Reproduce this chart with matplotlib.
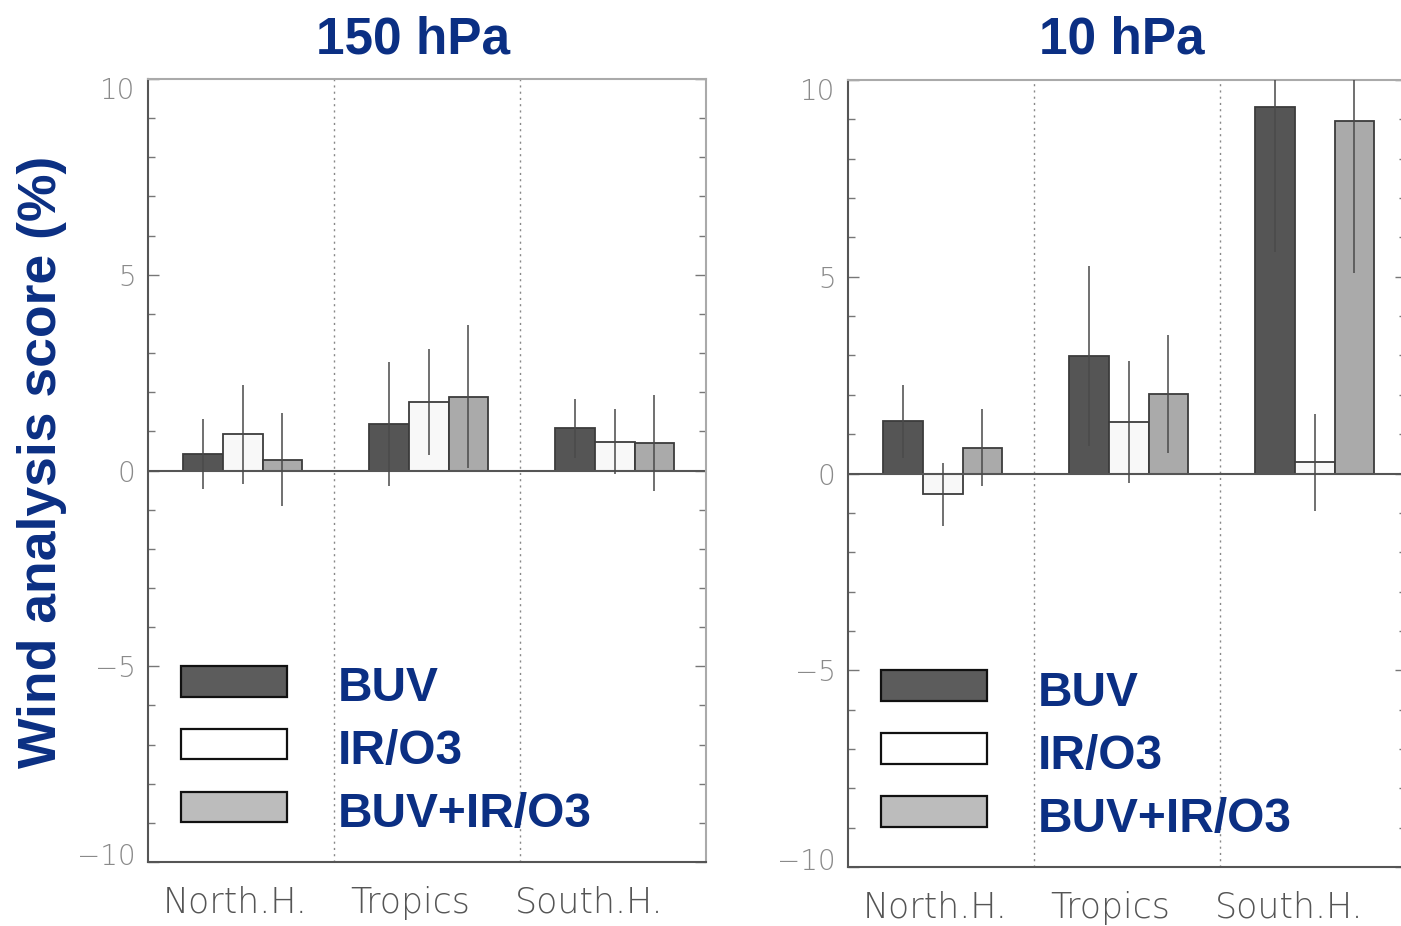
import matplotlib
matplotlib.use('Agg')
import matplotlib.pyplot as plt
import matplotlib.transforms as mtransforms
from matplotlib.patches import Rectangle
import numpy as np

# regions and experiments
regions = ['North.H.', 'Tropics', 'South.H.']
series = ['BUV', 'IR/O3', 'BUV+IR/O3']

# 150 hPa scores and error bar half lengths (%)
buv_150 = [0.42, 1.19, 1.08]
ir_150 = [0.92, 1.75, 0.74]
both_150 = [0.28, 1.89, 0.70]
buv_150_err = [0.89, 1.58, 0.75]
ir_150_err = [1.27, 1.36, 0.84]
both_150_err = [1.19, 1.83, 1.23]

# 10 hPa scores and error bar half lengths (%)
buv_10 = [1.33, 2.98, 9.31]
ir_10 = [-0.53, 1.31, 0.28]
both_10 = [0.65, 2.03, 8.97]
buv_10_err = [0.93, 2.29, 3.67]
ir_10_err = [0.80, 1.55, 1.24]
both_10_err = [0.98, 1.50, 3.87]

titles = ['150 hPa', '10 hPa']
ylabel = 'Wind analysis score (%)'

BLUE = '#0b2f83'
bar_colors = ['#555555', '#f8f8f8', '#aaaaaa']
legend_colors = ['#5c5c5c', '#ffffff', '#bcbcbc']
label_x = [0.47, 1.41, 2.37]

fig = plt.figure(figsize=(14.01, 9.26), dpi=100)
ax1 = fig.add_axes([148 / 1401, 64 / 926, 558 / 1401, 783 / 926])
ax2 = fig.add_axes([848 / 1401, 59 / 926, 558 / 1401, 787 / 926])


def draw_panel(ax, vals, errs, title, title_x):
    centers = np.arange(len(regions)) + 0.51
    w = 0.213
    for k in range(3):
        x = centers + (k - 1) * w
        ax.bar(x, vals[k], width=w, color=bar_colors[k], edgecolor='#3c3c3c',
               linewidth=1.3, zorder=2)
        ax.errorbar(x, vals[k], yerr=errs[k], fmt='none', ecolor='#4a4a4a',
                    elinewidth=1.3, capsize=0, alpha=0.85, zorder=3)

    ax.axhline(0, color='#555555', lw=1.5, zorder=2.5)
    for xs in [1, 2]:
        ax.axvline(xs, color='#888888', lw=1.0, ls=(0, (1.5, 3)), zorder=1)

    ax.set_xlim(0, 3)
    ax.set_ylim(-10, 10)
    ax.set_xticks([])
    ax.set_yticks([-10, -5, 0, 5, 10])
    ax.set_yticks(np.arange(-10, 11, 1), minor=True)
    ax.tick_params(axis='y', which='both', direction='in', left=True, right=True,
                   colors='#777777', labelcolor='#8a8a8a', labelsize=20, pad=9)
    ax.tick_params(axis='y', which='major', length=8, width=1.0)
    ax.tick_params(axis='y', which='minor', length=5, width=1.0)
    labels = ax.get_yticklabels()
    for lab in labels:
        lab.set_fontweight('light')
    # end labels sit a little inside the frame
    labels[0].set_transform(labels[0].get_transform() +
                            mtransforms.ScaledTranslation(0, 8 / 100, fig.dpi_scale_trans))
    labels[-1].set_transform(labels[-1].get_transform() +
                             mtransforms.ScaledTranslation(0, -9 / 100, fig.dpi_scale_trans))

    ax.spines['left'].set_color('#555555')
    ax.spines['bottom'].set_color('#555555')
    ax.spines['top'].set_color('#aaaaaa')
    ax.spines['right'].set_color('#aaaaaa')
    for s in ax.spines.values():
        s.set_linewidth(1.5)

    # region names under the axis
    trans = mtransforms.blended_transform_factory(ax.transData, ax.transAxes)
    for xl, name in zip(label_x, regions):
        ax.text(xl, -0.052, name, transform=trans, ha='center', va='center',
                fontsize=25, color='#555555', fontweight='light')

    # legend drawn by hand
    for k, name in enumerate(series):
        top = -5.0 - 1.6 * k
        ax.add_patch(Rectangle((0.175, top - 0.78), 0.575, 0.78,
                               facecolor=legend_colors[k], edgecolor='#111111',
                               linewidth=1.6, zorder=4))
        ax.text(1.02, top - 0.9, name, fontsize=34.5, fontweight='bold',
                color=BLUE, family='Liberation Sans', va='baseline', zorder=5)

    ax.text(title_x, 1.0 + 26 / 783, title, transform=ax.transAxes, ha='center',
            va='baseline', fontsize=37, fontweight='bold', color=BLUE,
            family='Liberation Sans')


draw_panel(ax1, [buv_150, ir_150, both_150], [buv_150_err, ir_150_err, both_150_err],
           titles[0], 0.475)
draw_panel(ax2, [buv_10, ir_10, both_10], [buv_10_err, ir_10_err, both_10_err],
           titles[1], 0.491)

fig.text(42 / 1401, 1 - 462 / 926, ylabel, rotation=90, ha='center', va='center',
         fontsize=38.5, fontweight='bold', color=BLUE, family='Liberation Sans')

fig.savefig('out.png', dpi=100)
